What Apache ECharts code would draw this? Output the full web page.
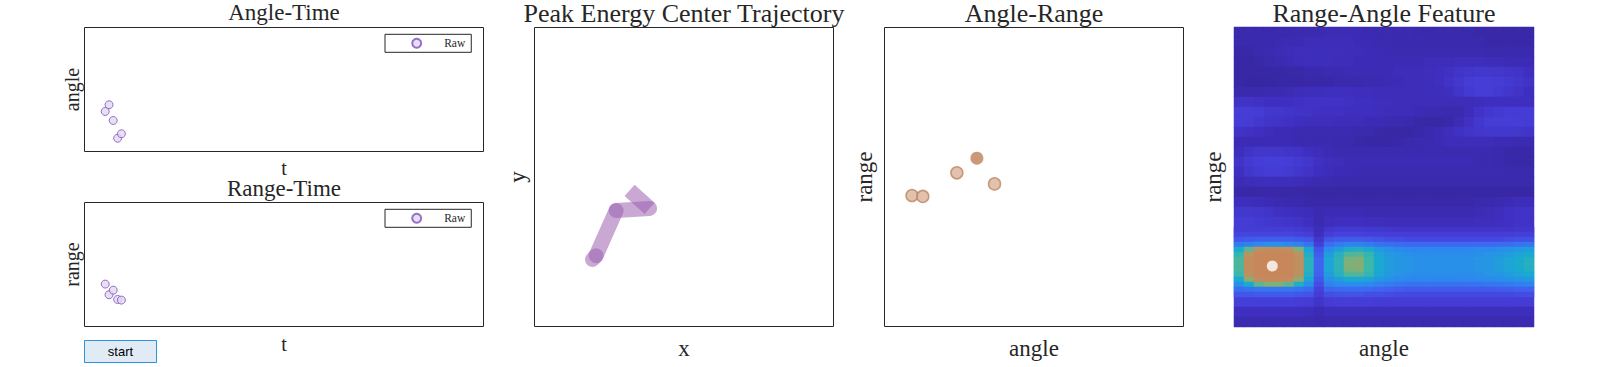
<!DOCTYPE html>
<html><head><meta charset="utf-8">
<script src="https://cdn.jsdelivr.net/npm/echarts@6/dist/echarts.min.js"></script>
<style>html,body{margin:0;padding:0;background:#fff}#c{width:1620px;height:367px}</style>
</head><body><div id="c"></div>
<script>
// ---- data ----
const tTime = [5.2, 6.15, 7.2, 8.3, 9.25];
const angleRaw = [32.3, 37.7, 25.0, 10.7, 14.3];
const rangeRaw = [34.2, 25.6, 29.3, 21.8, 21.3];

const trajX = [19.4, 20.6, 27.3, 38.5, 31.8];
const trajY = [22.4, 23.7, 38.8, 39.5, 45.5];

const arAngle = [9.2, 12.8, 24.2, 36.8];
const arRange = [43.8, 43.5, 51.4, 47.7];
const curAngle = [30.9];
const curRange = [56.3];

const peakAngle = [3.83];
const peakRange = [23.9];

const hmCols = ['0','1','2','3','4','5','6','7','8','9','10','11','12','13','14','15','16','17','18','19','20','21','22','23','24','25','26','27','28','29'];
const hmRowsLbl = ['0','1','2','3','4','5','6','7','8','9','10','11','12','13','14','15','16','17','18','19','20','21','22','23','24','25','26','27','28','29'];
const bandRowsLbl = ['0','1','2','3','4','5','6','7','8','9','10','11','12','13'];
// coarse map (10px cells)
const featureMap = [
[0.5,0.5,0.5,0.5,0.5,0.5,0.6,0.6,0.6,0.7,0.7,0.7,0.7,0.6,0.6,0.6,0.6,0.6,0.5,0.5,0.5,0.5,0.5,0.5,0.4,0.4,0.4,0.4,0.4,0.4],
[0.5,0.5,0.5,0.5,0.6,0.7,0.7,0.8,0.8,0.8,0.8,0.8,0.7,0.7,0.6,0.6,0.6,0.6,0.6,0.5,0.5,0.5,0.5,0.5,0.5,0.4,0.4,0.4,0.4,0.4],
[0.4,0.4,0.5,0.6,0.7,0.8,0.9,0.9,0.9,0.9,0.9,0.8,0.8,0.7,0.7,0.6,0.6,0.6,0.6,0.6,0.6,0.6,0.6,0.6,0.6,0.5,0.5,0.5,0.5,0.5],
[0.3,0.3,0.4,0.5,0.6,0.7,0.8,0.9,0.9,0.9,0.8,0.8,0.7,0.7,0.7,0.7,0.7,0.7,0.7,0.8,0.8,0.8,0.9,0.9,0.9,0.8,0.8,0.7,0.7,0.7],
[0.3,0.3,0.3,0.3,0.3,0.4,0.4,0.5,0.5,0.6,0.6,0.7,0.7,0.7,0.7,0.7,0.8,0.8,0.8,0.9,1.0,1.1,1.3,1.4,1.5,1.5,1.4,1.3,1.2,1.0],
[0.3,0.2,0.2,0.2,0.3,0.3,0.3,0.4,0.4,0.4,0.5,0.5,0.5,0.6,0.6,0.7,0.7,0.8,0.8,0.9,1.0,1.2,1.5,1.7,1.8,1.8,1.7,1.6,1.4,1.2],
[0.5,0.5,0.5,0.6,0.6,0.7,0.8,0.9,0.9,1.0,1.0,1.0,0.9,0.9,0.8,0.8,0.8,0.8,0.8,0.9,0.9,1.0,1.3,1.6,1.8,1.8,1.6,1.4,1.2,1.0],
[1.2,1.2,1.1,1.0,1.0,1.0,1.1,1.2,1.2,1.2,1.2,1.1,1.0,1.0,0.9,0.9,0.8,0.8,0.8,0.8,0.8,0.8,0.8,0.8,0.9,1.0,1.0,1.0,1.0,1.0],
[1.8,1.8,1.7,1.5,1.4,1.3,1.2,1.2,1.1,1.1,1.1,1.0,1.0,1.0,0.9,0.8,0.8,0.8,0.7,0.6,0.6,0.5,0.5,0.8,1.2,1.5,1.6,1.7,1.7,1.7],
[1.8,1.7,1.5,1.3,1.2,1.1,1.0,0.9,0.9,0.9,0.8,0.8,0.8,0.7,0.7,0.6,0.6,0.5,0.4,0.3,0.3,0.4,0.7,1.1,1.5,1.7,1.8,1.8,1.8,1.7],
[1.2,1.1,1.0,0.8,0.7,0.7,0.6,0.6,0.6,0.6,0.6,0.6,0.5,0.5,0.4,0.3,0.3,0.3,0.4,0.5,0.7,0.9,1.1,1.3,1.4,1.5,1.5,1.5,1.4,1.3],
[0.7,0.7,0.7,0.7,0.7,0.7,0.6,0.6,0.6,0.6,0.5,0.5,0.4,0.3,0.3,0.3,0.4,0.5,0.6,0.6,0.7,0.8,0.8,0.8,0.8,0.8,0.7,0.7,0.6,0.6],
[0.9,1.2,1.4,1.4,1.4,1.3,1.2,1.0,0.8,0.7,0.6,0.6,0.6,0.6,0.6,0.6,0.6,0.6,0.6,0.6,0.6,0.6,0.6,0.6,0.6,0.6,0.5,0.4,0.4,0.4],
[1.2,1.6,1.8,1.9,1.9,1.8,1.6,1.4,1.1,0.9,0.8,0.7,0.7,0.7,0.7,0.7,0.7,0.7,0.7,0.7,0.7,0.7,0.7,0.7,0.6,0.6,0.5,0.4,0.4,0.4],
[1.0,1.4,1.6,1.7,1.7,1.6,1.4,1.2,1.0,0.8,0.7,0.7,0.6,0.6,0.6,0.6,0.6,0.6,0.6,0.6,0.6,0.6,0.6,0.6,0.6,0.6,0.6,0.5,0.5,0.5],
[0.7,0.8,0.9,0.9,0.9,0.9,0.8,0.7,0.6,0.6,0.5,0.5,0.5,0.5,0.5,0.5,0.5,0.5,0.5,0.5,0.5,0.5,0.5,0.5,0.5,0.5,0.5,0.5,0.5,0.5],
[0.4,0.4,0.4,0.4,0.4,0.4,0.4,0.3,0.3,0.3,0.3,0.3,0.3,0.3,0.3,0.3,0.3,0.3,0.3,0.3,0.3,0.3,0.3,0.3,0.3,0.3,0.3,0.3,0.3,0.3],
[0.9,0.9,0.8,0.7,0.6,0.5,0.5,0.4,0.4,0.4,0.4,0.4,0.4,0.4,0.4,0.4,0.4,0.4,0.4,0.4,0.4,0.4,0.4,0.4,0.5,0.5,0.6,0.7,0.8,0.8],
[1.5,1.5,1.4,1.3,1.1,1.0,0.9,0.8,0.6,0.7,0.7,0.7,0.7,0.6,0.6,0.6,0.6,0.6,0.6,0.6,0.6,0.6,0.6,0.6,0.7,0.8,0.9,1.1,1.2,1.2],
[1.7,1.7,1.6,1.5,1.4,1.3,1.2,1.0,0.6,0.9,1.0,1.0,1.0,0.9,0.9,0.8,0.8,0.8,0.8,0.8,0.8,0.8,0.8,0.8,0.9,0.9,1.0,1.1,1.2,1.2],
[2.0,2.0,2.0,2.0,2.0,1.9,1.8,1.5,0.8,1.5,1.7,1.8,1.8,1.7,1.6,1.5,1.4,1.4,1.3,1.3,1.3,1.3,1.3,1.3,1.3,1.3,1.4,1.4,1.5,1.5],
[2.8,3.0,3.2,3.3,3.3,3.2,3.0,2.6,1.5,2.6,2.9,3.0,3.0,2.9,2.8,2.7,2.6,2.5,2.5,2.4,2.4,2.4,2.4,2.4,2.5,2.5,2.5,2.6,2.7,2.7],
[4.5,6.5,8.3,8.7,8.7,8.3,7.0,5.0,2.5,4.0,4.5,5.0,5.0,4.8,4.5,4.3,4.2,4.0,4.0,3.9,3.8,3.8,3.8,3.9,4.0,4.0,4.0,4.1,4.3,4.5],
[6.0,8.3,9.0,9.0,9.0,8.8,8.0,5.5,3.0,4.8,5.5,6.5,6.8,6.0,5.2,5.0,5.0,4.9,4.8,4.7,4.6,4.6,4.6,4.7,4.8,4.9,5.0,5.1,5.3,5.6],
[5.8,8.2,9.0,9.0,9.0,8.8,8.0,5.5,3.0,4.8,5.5,6.3,6.5,5.8,5.1,4.9,4.9,4.8,4.7,4.6,4.5,4.5,4.5,4.6,4.7,4.8,4.9,5.0,5.2,5.4],
[4.5,6.0,7.5,8.0,7.8,7.2,6.0,4.6,2.5,4.0,4.3,4.5,4.5,4.4,4.2,4.1,4.0,4.0,4.0,4.0,3.9,3.9,3.9,3.9,4.0,4.0,4.0,4.1,4.2,4.3],
[3.0,3.1,3.2,3.3,3.3,3.2,3.1,2.9,2.0,2.8,2.9,3.0,3.0,2.9,2.9,2.8,2.8,2.8,2.8,2.8,2.8,2.8,2.8,2.8,2.8,2.8,2.8,2.8,2.9,2.9],
[1.9,1.9,1.9,1.9,1.9,1.9,1.8,1.7,1.3,1.7,1.8,1.8,1.8,1.8,1.7,1.7,1.7,1.7,1.7,1.7,1.7,1.7,1.7,1.7,1.7,1.7,1.7,1.7,1.7,1.7],
[1.0,1.0,1.0,1.0,1.0,1.0,1.0,0.9,0.7,0.9,0.9,0.9,0.9,0.9,0.9,0.9,0.9,0.9,0.9,0.9,0.9,0.9,0.9,0.9,0.9,0.9,0.9,0.9,0.9,0.9],
[0.6,0.6,0.6,0.6,0.6,0.6,0.6,0.6,0.5,0.6,0.6,0.6,0.6,0.6,0.6,0.6,0.6,0.6,0.6,0.6,0.6,0.6,0.6,0.6,0.6,0.6,0.6,0.6,0.6,0.6]
];
// finer rows over the bright band (5px rows, y 227..297)
const bandMap = [
[1.7,1.7,1.7,1.7,1.7,1.7,1.6,1.4,0.8,1.4,1.6,1.6,1.6,1.5,1.5,1.4,1.3,1.3,1.3,1.3,1.3,1.3,1.3,1.3,1.3,1.3,1.3,1.3,1.4,1.4],
[2.1,2.1,2.1,2.1,2.1,2.1,2.0,1.8,1.0,1.8,2.0,2.0,2.0,1.9,1.9,1.8,1.8,1.8,1.8,1.8,1.8,1.8,1.8,1.8,1.8,1.8,1.8,1.8,1.9,1.9],
[2.6,2.7,2.8,2.8,2.8,2.8,2.7,2.5,1.4,2.5,2.7,2.7,2.7,2.6,2.5,2.4,2.3,2.2,2.2,2.2,2.2,2.2,2.2,2.2,2.2,2.2,2.2,2.3,2.4,2.4],
[3.6,3.8,4.0,4.2,4.2,4.0,3.8,3.4,1.8,3.3,3.6,3.8,3.8,3.6,3.4,3.3,3.2,3.1,3.1,3.1,3.1,3.1,3.1,3.1,3.1,3.1,3.2,3.2,3.4,3.5],
[5.0,6.5,8.3,8.5,8.5,8.3,7.0,4.8,2.5,4.0,4.6,5.2,5.3,5.0,4.5,4.2,4.0,3.9,3.9,3.9,3.9,3.9,3.9,3.9,4.0,4.0,4.1,4.2,4.4,4.6],
[5.8,8.0,9.0,9.0,9.0,9.0,8.0,5.2,2.8,4.6,5.4,6.3,6.4,5.8,4.9,4.5,4.3,4.2,4.1,4.1,4.1,4.1,4.1,4.1,4.2,4.3,4.4,4.6,4.8,5.0],
[6.2,8.6,9.0,9.0,9.0,9.0,8.4,5.5,3.0,4.8,5.6,6.9,7.0,6.0,5.0,4.6,4.4,4.3,4.2,4.2,4.2,4.2,4.2,4.2,4.3,4.4,4.6,4.8,5.0,5.3],
[6.2,8.6,9.0,9.0,9.0,9.0,8.4,5.5,3.0,4.8,5.6,7.0,7.1,6.0,5.0,4.6,4.4,4.3,4.2,4.2,4.2,4.2,4.2,4.2,4.3,4.4,4.6,4.8,5.1,5.4],
[6.2,8.6,9.0,9.0,9.0,9.0,8.4,5.5,3.0,4.8,5.6,6.9,7.0,6.0,5.0,4.6,4.4,4.3,4.2,4.2,4.2,4.2,4.2,4.2,4.3,4.4,4.6,4.8,5.0,5.3],
[5.9,8.3,9.0,9.0,9.0,9.0,8.2,5.3,2.9,4.6,5.4,6.3,6.4,5.8,4.9,4.5,4.3,4.2,4.1,4.1,4.1,4.1,4.1,4.1,4.2,4.3,4.4,4.6,4.8,5.0],
[5.0,7.2,8.6,8.8,8.8,8.6,7.2,4.8,2.6,4.2,4.6,5.0,5.0,4.8,4.4,4.2,4.0,3.9,3.9,3.9,3.9,3.9,3.9,3.9,4.0,4.0,4.1,4.2,4.3,4.5],
[4.2,5.0,6.5,7.0,7.0,6.5,5.2,4.2,2.3,3.8,4.0,4.1,4.1,4.0,3.8,3.6,3.5,3.4,3.4,3.4,3.4,3.4,3.4,3.4,3.4,3.5,3.5,3.6,3.7,3.8],
[3.3,3.4,3.5,3.5,3.5,3.5,3.4,3.2,2.0,3.0,3.1,3.2,3.2,3.1,3.0,2.9,2.8,2.7,2.7,2.7,2.7,2.7,2.7,2.7,2.7,2.7,2.8,2.8,2.9,2.9],
[2.6,2.6,2.7,2.7,2.7,2.7,2.6,2.5,1.7,2.4,2.5,2.5,2.5,2.4,2.4,2.3,2.2,2.2,2.2,2.2,2.2,2.2,2.2,2.2,2.2,2.2,2.2,2.2,2.3,2.3]
];
const heatColors = ['#35259a','#3f2fc0','#4641dc','#3f64f0','#2c8aee','#1aaad0','#3cb8a8','#80b078','#b89462','#c8875a'];

// ---- build ----
const SERIF = 'Liberation Serif';
const TXT = '#262626';
function zip(a, b) { return a.map((v, i) => [v, b[i]]); }
function cells(m) { const out = []; m.forEach((row, r) => row.forEach((v, c) => out.push([c, r, v]))); return out; }

function vAxis(gi, name, gap, size) {
  return {
    gridIndex: gi, type: 'value', min: 0, max: 100,
    axisLine: {show: false}, axisTick: {show: false}, axisLabel: {show: false}, splitLine: {show: false},
    name: name, nameLocation: 'middle', nameGap: gap,
    nameTextStyle: {fontFamily: SERIF, fontSize: size, color: TXT}
  };
}
function cAxis(gi, data, name, gap, inverse) {
  return {gridIndex: gi, type: 'category', data: data, inverse: !!inverse,
    axisLine: {show: false}, axisTick: {show: false}, axisLabel: {show: false}, splitLine: {show: false},
    name: name, nameLocation: 'middle', nameGap: gap,
    nameTextStyle: {fontFamily: SERIF, fontSize: 23, color: TXT}};
}
const gridBox = {show: true, borderColor: TXT, borderWidth: 1, backgroundColor: '#fff'};

const rawStyle = {color: '#e2d8ee', borderColor: '#7c4fc4', borderWidth: 1};

const trajSeries = [];
for (let i = 0; i < trajX.length - 1; i++) {
  trajSeries.push({
    type: 'line', xAxisIndex: 2, yAxisIndex: 2, symbol: 'none', silent: true,
    data: [[trajX[i], trajY[i]], [trajX[i + 1], trajY[i + 1]]],
    lineStyle: {width: 15, color: '#9b60af', opacity: 0.54, cap: i === trajX.length - 2 ? 'butt' : 'round'}
  });
}

function titleText(t, x, y, size) {
  return {type: 'text', silent: true, style: {text: t, x: x, y: y, font: size + 'px "' + SERIF + '"', fill: TXT,
    align: 'center', verticalAlign: 'middle', textAlign: 'center', textVerticalAlign: 'middle'}};
}

const legendBase = {
  data: ['Raw'], left: 385, orient: 'horizontal', icon: 'circle',
  itemWidth: 45, itemHeight: 9, itemGap: 5,
  padding: [3, 6, 3, 26.2], borderColor: TXT, borderWidth: 1, borderRadius: 0, backgroundColor: '#fff',
  textStyle: {fontFamily: SERIF, fontSize: 11.5, color: TXT}
};

const series = [
  {name: 'Raw', type: 'scatter', xAxisIndex: 0, yAxisIndex: 0, symbolSize: 8, itemStyle: rawStyle, data: zip(tTime, angleRaw)},
  {name: 'Raw', type: 'scatter', xAxisIndex: 1, yAxisIndex: 1, symbolSize: 8, itemStyle: rawStyle, data: zip(tTime, rangeRaw)}
].concat(trajSeries).concat([
  {name: 'AR', type: 'scatter', xAxisIndex: 3, yAxisIndex: 3, symbolSize: 12,
    itemStyle: {color: '#dab397', borderColor: '#bd8562', borderWidth: 1.5}, data: zip(arAngle, arRange)},
  {name: 'Current', type: 'scatter', xAxisIndex: 3, yAxisIndex: 3, symbolSize: 13,
    itemStyle: {color: '#be8058'}, data: zip(curAngle, curRange)},
  {name: 'Feature', type: 'heatmap', xAxisIndex: 4, yAxisIndex: 4, data: cells(featureMap), silent: true},
  {name: 'FeatureBand', type: 'heatmap', xAxisIndex: 6, yAxisIndex: 6, data: cells(bandMap), silent: true, z: 3},
  {name: 'Peak', type: 'scatter', xAxisIndex: 5, yAxisIndex: 5, symbolSize: 11, itemStyle: {color: '#ffffff'}, data: zip(peakAngle, peakRange), z: 5}
]);
const heatIdx = [series.findIndex(s => s.name === 'Feature'), series.findIndex(s => s.name === 'FeatureBand')];

const chart = echarts.init(document.getElementById('c'), null, {renderer: 'svg'});
chart.setOption({
  animation: false,
  backgroundColor: '#fff',
  grid: [
    Object.assign({left: 84.5, top: 27.5, width: 399, height: 124}, gridBox),
    Object.assign({left: 84.5, top: 202.5, width: 399, height: 124}, gridBox),
    Object.assign({left: 534.5, top: 27.5, width: 299, height: 299}, gridBox),
    Object.assign({left: 884.5, top: 27.5, width: 299, height: 299}, gridBox),
    {left: 1234, top: 27, width: 300, height: 300, show: false},
    {left: 1234, top: 27, width: 300, height: 300, show: false},
    {left: 1234, top: 227, width: 300, height: 70, show: false}
  ],
  xAxis: [
    vAxis(0, 't', 6, 20),
    vAxis(1, 't', 7, 20),
    vAxis(2, 'x', 10, 23),
    vAxis(3, 'angle', 10, 23),
    cAxis(4, hmCols, 'angle', 10, false),
    {gridIndex: 5, type: 'value', min: 0, max: 30, show: false},
    {gridIndex: 6, type: 'category', data: hmCols, show: false}
  ],
  yAxis: [
    vAxis(0, 'angle', 3, 20),
    vAxis(1, 'range', 3, 20),
    vAxis(2, 'y', 6, 23),
    vAxis(3, 'range', 9, 23),
    cAxis(4, hmRowsLbl, 'range', 9, true),
    {gridIndex: 5, type: 'value', min: 0, max: 30, inverse: true, show: false},
    {gridIndex: 6, type: 'category', data: bandRowsLbl, inverse: true, show: false}
  ],
  legend: [
    Object.assign({top: 34.3}, legendBase),
    Object.assign({top: 209.3}, legendBase)
  ],
  visualMap: {show: false, type: 'continuous', min: 0, max: 9, seriesIndex: heatIdx,
    inRange: {color: heatColors}},
  series: series,
  graphic: [
    titleText('Angle-Time', 284, 12.5, 23),
    titleText('Range-Time', 284, 188.5, 23),
    titleText('Peak Energy Center Trajectory', 684, 13, 26),
    titleText('Angle-Range', 1034, 13, 26),
    titleText('Range-Angle Feature', 1384, 13, 26),
    {type: 'group', children: [
      {type: 'rect', shape: {x: 84.5, y: 340.5, width: 72, height: 22}, style: {fill: '#e1ebf5', stroke: '#2b93e0', lineWidth: 1}},
      {type: 'text', style: {text: 'start', x: 120.5, y: 351.5, font: '13px "Liberation Sans"', fill: '#000',
        align: 'center', verticalAlign: 'middle', textAlign: 'center', textVerticalAlign: 'middle'}}
    ]}
  ]
});
</script></body></html>
